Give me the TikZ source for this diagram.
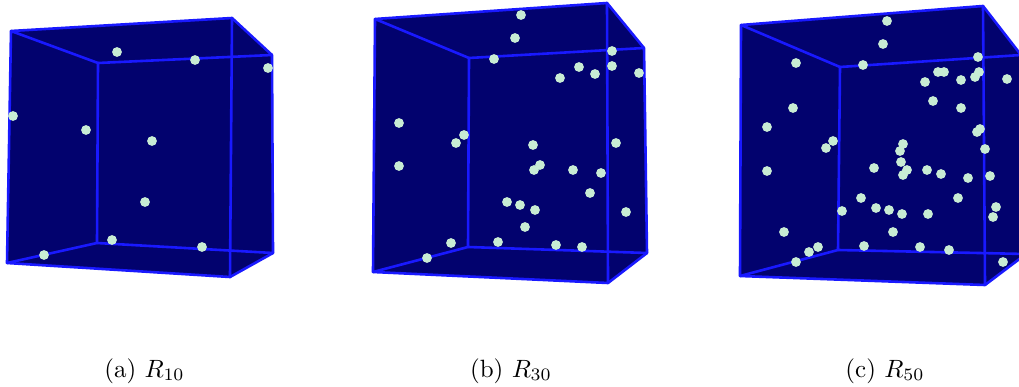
\documentclass[tikz,border=0pt]{standalone}
\definecolor{navy}{RGB}{2,2,110}
\definecolor{edgeblue}{RGB}{25,25,255}
\definecolor{mint}{RGB}{200,236,212}
\tikzset{
  cubefill/.style={fill=navy,draw=none},
  cubeedge/.style={draw=edgeblue,line width=2.6pt,line join=round,line cap=round},
  pt/.style={fill=mint,draw=none}
}
\newcommand{\mycube}[9]{%
  % #1 name prefix, #2..#9 corners F1 F2 F3 F4 B1 B2 B3 B4
  \coordinate (#1F1) at #2; \coordinate (#1F2) at #3;
  \coordinate (#1F3) at #4; \coordinate (#1F4) at #5;
  \coordinate (#1B1) at #6; \coordinate (#1B2) at #7;
  \coordinate (#1B3) at #8; \coordinate (#1B4) at #9;
  \fill[cubefill] (#1F1) -- (#1F2) -- (#1B2) -- (#1B3) -- (#1F3) -- (#1F4) -- cycle;
  \draw[cubeedge] (#1F1) -- (#1F2) -- (#1F3) -- (#1F4) -- cycle;
  \draw[cubeedge] (#1B1) -- (#1B2) -- (#1B3) -- (#1B4) -- cycle;
  \draw[cubeedge] (#1F1) -- (#1B1) (#1F2) -- (#1B2) (#1F3) -- (#1B3) (#1F4) -- (#1B4);
}
\begin{document}
\begin{tikzpicture}[x=1pt,y=-1pt]
\useasboundingbox (0,0) rectangle (1019,387);
\clip (0,0) rectangle (1019,387);
% cube a
\mycube{a}{(11,31)}{(232,18)}{(230,277)}{(7,263)}{(98,63)}{(272,55)}{(273,253)}{(97,243)}
\foreach \p in {(117,52),(195,60),(268,68),(13,116),(86,130),(152,141),(145,202),(112,240),(202,247),(44,255)}
  \fill[pt] \p circle (4.9);
% cube b
\mycube{b}{(375,19)}{(607,3)}{(608,283)}{(373,272)}{(469,58)}{(644,48)}{(647,253)}{(468,247)}
\foreach \p in {(521,15),(515,38),(494,59),(612,51),(579,67),(612,66),(595,74),(639,73),(560,78),
  (399,123),(464,135),(456,143),(533,145),(616,143),(399,166),(540,165),(534,170),(573,170),(601,173),
  (590,193),(507,202),(520,205),(535,210),(626,212),(525,227),(451,243),(498,242),(556,245),(582,247),(427,258)}
  \fill[pt] \p circle (4.9);
% cube c
\mycube{c}{(741,25)}{(983,6)}{(985,285)}{(740,276)}{(840,67)}{(1021,55)}{(1026,254)}{(838,250)}
\foreach \p in {(887,21),(883,44),(796,63),(863,65),(978,57),(938,72),(944,72),(979,72),(975,77),(961,80),
  (925,82),(1007,79),(933,101),(961,108),(793,108),(767,127),(977,132),(980,129),(833,141),(826,148),
  (903,144),(900,151),(985,149),(767,171),(874,168),(901,162),(907,170),(903,175),(927,170),(941,174),
  (968,178),(990,176),(958,198),(861,198),(876,208),(889,210),(902,214),(928,214),(842,211),(996,207),
  (993,217),(784,232),(893,232),(818,247),(809,252),(864,246),(920,247),(949,250),(796,262),(1003,262)}
  \fill[pt] \p circle (4.9);
% captions
\node[anchor=base,scale=2.5] (capa) at (144.5,377) {(a) $R_{10}$};
\node[anchor=base,scale=2.5] (capb) at (511,377) {(b) $R_{30}$};
\node[anchor=base,scale=2.5] (capc) at (885,377) {(c) $R_{50}$};
\end{tikzpicture}
\end{document}
